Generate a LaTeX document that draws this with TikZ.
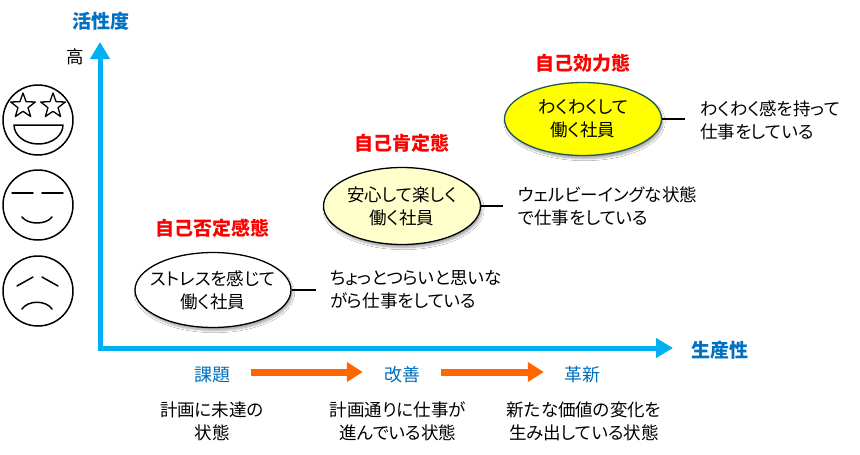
\documentclass[tikz,border=0pt]{standalone}
\usepackage{fontspec}
\setmainfont{Noto Sans CJK JP}[RawFeature=+palt]
\usetikzlibrary{arrows.meta,shapes.geometric,shadows.blur}
\definecolor{axisblue}{HTML}{00B0F0}
\definecolor{labelblue}{HTML}{0070C0}
\definecolor{arrorange}{HTML}{FF6600}
\definecolor{paleyellow}{HTML}{FFFFCC}
\definecolor{brightyellow}{HTML}{FFFF00}
\definecolor{tealborder}{HTML}{1E5A50}
\begin{document}
\begin{tikzpicture}[x=1pt,y=-1pt,
  body/.style={font=\fontsize{17.5}{23}\selectfont, align=center, inner sep=0pt},
  desc/.style={body, align=left, anchor=west},
  ell/.style={ellipse, draw=black, line width=1.3pt, minimum width=157pt, minimum height=75pt, inner sep=0pt,
    blur shadow={shadow xshift=1.5pt, shadow yshift=-3pt, shadow blur steps=6, shadow opacity=35}},
  statelabel/.style={text=red, font=\fontsize{19}{22}\selectfont\bfseries, inner sep=0pt},
  axislabel/.style={text=labelblue, font=\fontsize{19}{22}\selectfont\bfseries, inner sep=0pt},
  stagelabel/.style={text=labelblue, font=\fontsize{18}{22}\selectfont, inner sep=0pt},
  link/.style={draw=black, line width=1.3pt},
  axisline/.style={draw=axisblue, line width=5pt, line join=miter,
    {Triangle[length=17pt,width=19pt]}-{Triangle[length=17pt,width=19pt]}},
  oarrow/.style={draw=arrorange, line width=7pt, -{Triangle[length=16pt,width=19pt]}},
  face/.style={draw=black, line width=1.5pt, line cap=round, line join=round},
]
\fill[white] (0,0) rectangle (860,455);
\useasboundingbox (0,0) rectangle (860,455);

% axes
\coordinate (o) at (100,348);
\coordinate (ytip) at (100,42);
\coordinate (xtip) at (673,348);
\draw[axisline] (ytip) -- (o) -- (xtip);
\node[axislabel] (ylab) at (101,21) {活性度};
\node[body] (high) at (75,57) {高};
\node[axislabel] (xlab) at (720,350) {生産性};

% faces
\draw[face] (38,120) circle[radius=35];
\draw[face, line width=1.3pt] (23,106) +(-90:13) -- +(-54:5.3) -- +(-18:13) -- +(18:5.3) -- +(54:13) -- +(90:5.3) -- +(126:13) -- +(162:5.3) -- +(198:13) -- +(234:5.3) -- cycle;
\draw[face, line width=1.3pt] (53,106) +(-90:13) -- +(-54:5.3) -- +(-18:13) -- +(18:5.3) -- +(54:13) -- +(90:5.3) -- +(126:13) -- +(162:5.3) -- +(198:13) -- +(234:5.3) -- cycle;
\draw[face] (14,125) -- (63,125) arc[start angle=0,end angle=180,x radius=24.5,y radius=19] -- cycle;

\draw[face] (38,205) circle[radius=35];
\draw[face] (12,193) -- (33,193);
\draw[face] (42,193) -- (63,193);
\draw[face] (22,217) .. controls (28,225) and (46,225) .. (52,217);

\draw[face] (38,291) circle[radius=35];
\draw[face] (17,286) -- (33,277);
\draw[face] (42,277) -- (58,286);
\draw[face] (22,309) .. controls (28,300) and (46,300) .. (52,309);

% states
\node[ell, fill=white, minimum width=156pt] (e1) at (213,290) {};
\node[ell, fill=paleyellow, minimum height=77pt] (e2) at (402,206) {};
\node[ell, fill=brightyellow, draw=tealborder, minimum height=73pt] (e3) at (583,119) {};
\node[body] (t1) at (e1) {ストレスを感じて\\働く社員};
\node[body] (t2) at (e2) {安心して楽しく\\働く社員};
\node[body] (t3) at (e3) {わくわくして\\働く社員};

\node[statelabel] (l1) at (212,228) {自己否定感態};
\node[statelabel] (l2) at (402,143) {自己肯定態};
\node[statelabel] (l3) at (583,63) {自己効力態};

\coordinate (c1) at (316,290);
\coordinate (c2) at (503,206);
\coordinate (c3) at (685,119);
\draw[link] (e1.east) -- (c1);
\draw[link] (e2.east) -- (c2);
\draw[link] (e3.east) -- (c3);
\node[desc] (d1) at (330,290) {ちょっとつらいと思いな\\がら仕事をしている};
\node[desc] (d2) at (518,206) {ウェルビーイングな状態\\で仕事をしている};
\node[desc] (d3) at (700,120) {わくわく感を持って\\仕事をしている};

% stages
\node[stagelabel] (s1) at (212,375) {課題};
\node[stagelabel] (s2) at (402,375) {改善};
\node[stagelabel] (s3) at (582,375) {革新};
\draw[oarrow] ([xshift=21pt,yshift=3pt]s1.east) -- ([xshift=-21pt,yshift=3pt]s2.west);
\draw[oarrow] ([xshift=21pt,yshift=3pt]s2.east) -- ([xshift=-20pt,yshift=3pt]s3.west);

\node[body] (b1) at (212,421) {計画に未達の\\状態};
\node[body] (b2) at (398,421) {計画通りに仕事が\\進んでいる状態};
\node[body] (b3) at (584,421) {新たな価値の変化を\\生み出している状態};
\end{tikzpicture}
\end{document}
